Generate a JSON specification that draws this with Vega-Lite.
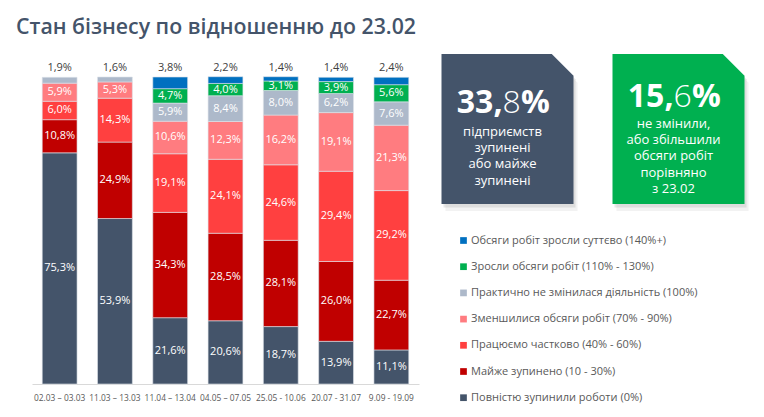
{
  "$schema": "https://vega.github.io/schema/vega-lite/v6.json",
  "width": 387,
  "height": 307,
  "autosize": {"type": "none"},
  "padding": {"left": 32, "top": 77, "right": 345, "bottom": 33},
  "config": {
    "font": "Open Sans",
    "view": {"stroke": null},
    "locale": {"number": {"decimal": ",", "thousands": " ", "grouping": [3], "currency": ["", ""]}}
  },
  "title": {
    "text": "Стан бізнесу по відношенню до 23.02",
    "anchor": "start",
    "frame": "group",
    "fontSize": 21.3,
    "fontWeight": 600,
    "color": "#44546A",
    "dx": -16,
    "offset": 16
  },
  "datasets": {
    "cats": [
      {"lvl": 140, "cat": "Обсяги робіт зросли суттєво (140%+)"},
      {"lvl": 110, "cat": "Зросли обсяги робіт (110% - 130%)"},
      {"lvl": 100, "cat": "Практично не змінилася діяльність (100%)"},
      {"lvl": 70, "cat": "Зменшилися обсяги робіт (70% - 90%)"},
      {"lvl": 40, "cat": "Працюємо частково (40% - 60%)"},
      {"lvl": 10, "cat": "Майже зупинено (10 - 30%)"},
      {"lvl": 0, "cat": "Повністю зупинили роботи (0%)"}
    ],
    "bars": [
      {"p": "02.03 – 03.03", "lvl": 0, "v": 0.753},
      {"p": "02.03 – 03.03", "lvl": 10, "v": 0.108},
      {"p": "02.03 – 03.03", "lvl": 40, "v": 0.060},
      {"p": "02.03 – 03.03", "lvl": 70, "v": 0.059},
      {"p": "02.03 – 03.03", "lvl": 100, "v": 0.019},
      {"p": "11.03 – 13.03", "lvl": 0, "v": 0.539},
      {"p": "11.03 – 13.03", "lvl": 10, "v": 0.249},
      {"p": "11.03 – 13.03", "lvl": 40, "v": 0.143},
      {"p": "11.03 – 13.03", "lvl": 70, "v": 0.053},
      {"p": "11.03 – 13.03", "lvl": 100, "v": 0.016},
      {"p": "11.04 – 13.04", "lvl": 0, "v": 0.216},
      {"p": "11.04 – 13.04", "lvl": 10, "v": 0.343},
      {"p": "11.04 – 13.04", "lvl": 40, "v": 0.191},
      {"p": "11.04 – 13.04", "lvl": 70, "v": 0.106},
      {"p": "11.04 – 13.04", "lvl": 100, "v": 0.059},
      {"p": "11.04 – 13.04", "lvl": 110, "v": 0.047},
      {"p": "11.04 – 13.04", "lvl": 140, "v": 0.038},
      {"p": "04.05 – 07.05", "lvl": 0, "v": 0.206},
      {"p": "04.05 – 07.05", "lvl": 10, "v": 0.285},
      {"p": "04.05 – 07.05", "lvl": 40, "v": 0.241},
      {"p": "04.05 – 07.05", "lvl": 70, "v": 0.123},
      {"p": "04.05 – 07.05", "lvl": 100, "v": 0.084},
      {"p": "04.05 – 07.05", "lvl": 110, "v": 0.040},
      {"p": "04.05 – 07.05", "lvl": 140, "v": 0.022},
      {"p": "25.05 - 10.06", "lvl": 0, "v": 0.187},
      {"p": "25.05 - 10.06", "lvl": 10, "v": 0.281},
      {"p": "25.05 - 10.06", "lvl": 40, "v": 0.246},
      {"p": "25.05 - 10.06", "lvl": 70, "v": 0.162},
      {"p": "25.05 - 10.06", "lvl": 100, "v": 0.080},
      {"p": "25.05 - 10.06", "lvl": 110, "v": 0.031},
      {"p": "25.05 - 10.06", "lvl": 140, "v": 0.014},
      {"p": "20.07 - 31.07", "lvl": 0, "v": 0.139},
      {"p": "20.07 - 31.07", "lvl": 10, "v": 0.260},
      {"p": "20.07 - 31.07", "lvl": 40, "v": 0.294},
      {"p": "20.07 - 31.07", "lvl": 70, "v": 0.191},
      {"p": "20.07 - 31.07", "lvl": 100, "v": 0.062},
      {"p": "20.07 - 31.07", "lvl": 110, "v": 0.039},
      {"p": "20.07 - 31.07", "lvl": 140, "v": 0.014},
      {"p": "9.09 - 19.09", "lvl": 0, "v": 0.111},
      {"p": "9.09 - 19.09", "lvl": 10, "v": 0.227},
      {"p": "9.09 - 19.09", "lvl": 40, "v": 0.292},
      {"p": "9.09 - 19.09", "lvl": 70, "v": 0.213},
      {"p": "9.09 - 19.09", "lvl": 100, "v": 0.076},
      {"p": "9.09 - 19.09", "lvl": 110, "v": 0.056},
      {"p": "9.09 - 19.09", "lvl": 140, "v": 0.024}
    ],
    "boxes": [
      {"box": "stopped", "share": 0.338, "whole": "33,", "dec": "8", "sub": "підприємств|зупинені|або майже|зупинені"},
      {"box": "kept", "share": 0.156, "whole": "15,", "dec": "6", "sub": "не змінили,|або збільшили|обсяги робіт|порівняно|з 23.02"}
    ]
  },
  "layer": [
    {
      "data": {"name": "bars"},
      "transform": [
        {"lookup": "lvl", "from": {"data": {"name": "cats"}, "key": "lvl", "fields": ["cat"]}},
        {"stack": "v", "groupby": ["p"], "sort": [{"field": "lvl", "order": "ascending"}], "as": ["s0", "s1"]},
        {"calculate": "(datum.s0 + datum.s1) / 2", "as": "mid"},
        {"joinaggregate": [{"op": "max", "field": "s1", "as": "top"}], "groupby": ["p"]}
      ],
      "encoding": {
        "x": {
          "field": "p",
          "type": "nominal",
          "sort": null,
          "title": null,
          "scale": {"paddingInner": 0.37, "paddingOuter": 0.185},
          "axis": {
            "labelAngle": 0,
            "ticks": false,
            "domainColor": "#D9D9D9",
            "labelColor": "#595959",
            "labelFontSize": 8.4,
            "labelPadding": 9,
            "labelFont": "Open Sans"
          }
        }
      },
      "layer": [
        {
          "mark": {"type": "bar", "stroke": "#DDE2E9", "strokeWidth": 0.6},
          "encoding": {
            "y": {"field": "s0", "type": "quantitative", "scale": {"domain": [0, 1], "nice": false}, "axis": null},
            "y2": {"field": "s1"},
            "color": {
              "field": "cat",
              "type": "nominal",
              "scale": {
                "domain": [
                  "Обсяги робіт зросли суттєво (140%+)",
                  "Зросли обсяги робіт (110% - 130%)",
                  "Практично не змінилася діяльність (100%)",
                  "Зменшилися обсяги робіт (70% - 90%)",
                  "Працюємо частково (40% - 60%)",
                  "Майже зупинено (10 - 30%)",
                  "Повністю зупинили роботи (0%)"
                ],
                "range": ["#0070C0", "#00B050", "#ADB9CA", "#FF7C80", "#FF4040", "#C00000", "#44546A"]
              },
              "legend": {
                "orient": "none",
                "legendX": 426,
                "legendY": 158,
                "title": null,
                "symbolType": "square",
                "symbolSize": 45,
                "symbolStrokeWidth": 0,
                "labelFontSize": 11,
                "labelColor": "#595959",
                "labelFont": "Open Sans",
                "labelOffset": 2,
                "labelLimit": 400,
                "rowPadding": 14.2,
                "padding": 0
              }
            }
          }
        },
        {
          "transform": [{"filter": "datum.s1 < datum.top"}],
          "mark": {"type": "text", "color": "white", "fontSize": 11, "baseline": "middle"},
          "encoding": {
            "y": {"field": "mid", "type": "quantitative"},
            "text": {"field": "v", "type": "quantitative", "format": ".1%"}
          }
        },
        {
          "transform": [{"filter": "datum.s1 == datum.top"}],
          "mark": {"type": "text", "color": "#404040", "fontSize": 11, "baseline": "middle", "dy": -9},
          "encoding": {
            "y": {"field": "s1", "type": "quantitative"},
            "text": {"field": "v", "type": "quantitative", "format": ".1%"}
          }
        }
      ]
    },
    {
      "data": {"name": "boxes"},
      "encoding": {
        "x": {"field": "box", "type": "nominal", "sort": null, "axis": null, "scale": {"type": "band", "domain": ["stopped", "kept"], "range": [390, 732], "paddingInner": 0, "paddingOuter": 0}},
        "y": {"datum": 0.5, "type": "quantitative", "axis": null, "scale": {"domain": [0, 1], "range": [127, -23]}}
      },
      "layer": [
        {
          "mark": {"type": "point", "shape": "M-0.88,-1L0.59,-1L0.88,-0.71L0.88,1L-0.88,1Z", "size": 22500, "filled": true, "color": "#7F7F7F", "opacity": 0.1, "xOffset": 4, "yOffset": 7, "strokeWidth": 0}
        },
        {
          "mark": {"type": "point", "shape": "M-0.88,-1L0.59,-1L0.88,-0.71L0.88,1L-0.88,1Z", "size": 22500, "filled": true, "color": "#7F7F7F", "opacity": 0.18, "xOffset": 2, "yOffset": 3.5, "strokeWidth": 0}
        },
        {
          "mark": {"type": "point", "shape": "M-0.88,-1L0.59,-1L0.88,-0.71L0.88,1L-0.88,1Z", "size": 22500, "filled": true, "opacity": 1, "strokeWidth": 0},
          "encoding": {
            "color": {"field": "box", "type": "nominal", "legend": null, "scale": {"domain": ["stopped", "kept"], "range": ["#44546A", "#00B050"]}}
          }
        },
        {
          "transform": [{"filter": "datum.box == 'stopped'"}],
          "layer": [
            {
              "mark": {"type": "text", "color": "white", "fontSize": 32, "fontWeight": "bold", "baseline": "middle", "align": "right", "yOffset": -26, "dx": -5},
              "encoding": {"text": {"field": "whole", "type": "nominal"}}
            },
            {
              "mark": {"type": "text", "color": "white", "fontSize": 32, "fontWeight": 300, "baseline": "middle", "align": "left", "yOffset": -26, "dx": -5},
              "encoding": {"text": {"field": "dec", "type": "nominal"}}
            },
            {
              "mark": {"type": "text", "color": "white", "fontSize": 32, "fontWeight": "bold", "baseline": "middle", "align": "left", "yOffset": -26, "dx": 13.5},
              "encoding": {"text": {"value": "%"}}
            },
            {
              "mark": {"type": "text", "color": "white", "fontSize": 13, "baseline": "middle", "lineBreak": "|", "lineHeight": 16.2, "yOffset": 3, "dx": -5},
              "encoding": {"text": {"field": "sub", "type": "nominal"}}
            }
          ]
        },
        {
          "transform": [{"filter": "datum.box == 'kept'"}],
          "layer": [
            {
              "mark": {"type": "text", "color": "white", "fontSize": 32, "fontWeight": "bold", "baseline": "middle", "align": "right", "yOffset": -32, "dx": -5},
              "encoding": {"text": {"field": "whole", "type": "nominal"}}
            },
            {
              "mark": {"type": "text", "color": "white", "fontSize": 32, "fontWeight": 300, "baseline": "middle", "align": "left", "yOffset": -32, "dx": -5},
              "encoding": {"text": {"field": "dec", "type": "nominal"}}
            },
            {
              "mark": {"type": "text", "color": "white", "fontSize": 32, "fontWeight": "bold", "baseline": "middle", "align": "left", "yOffset": -32, "dx": 13.5},
              "encoding": {"text": {"value": "%"}}
            },
            {
              "mark": {"type": "text", "color": "white", "fontSize": 13, "baseline": "middle", "lineBreak": "|", "lineHeight": 16.2, "yOffset": -5, "dx": -5},
              "encoding": {"text": {"field": "sub", "type": "nominal"}}
            }
          ]
        }
      ]
    }
  ],
  "resolve": {"scale": {"x": "independent", "y": "independent", "color": "independent"}}
}
